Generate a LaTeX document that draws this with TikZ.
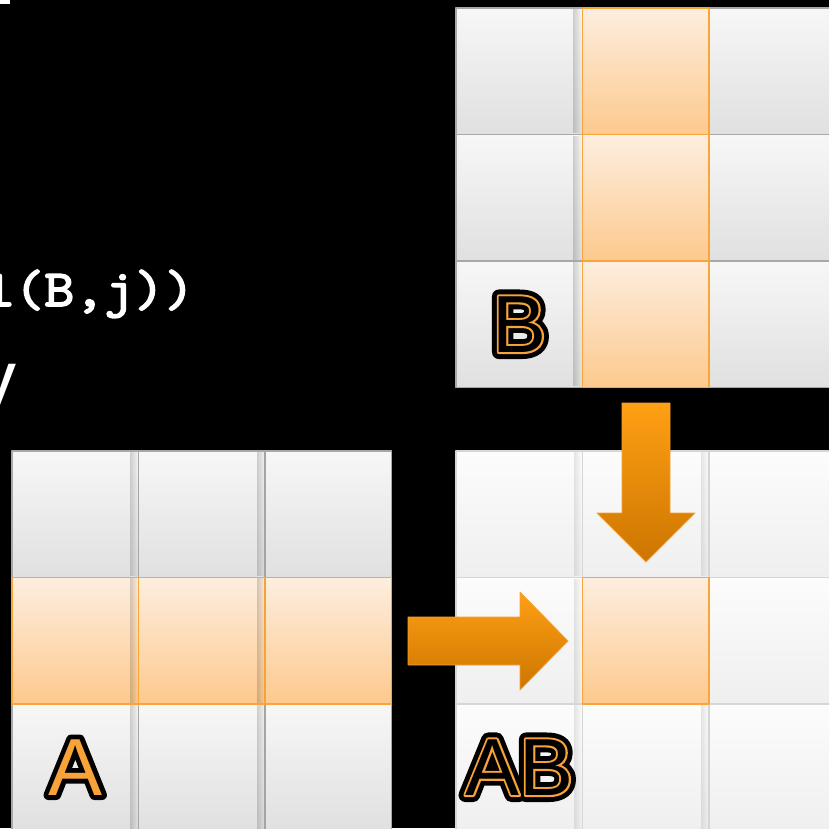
\documentclass[tikz,border=0pt]{standalone}
\usepackage{fontspec}
\setmainfont{Liberation Sans}
\newfontfamily\codefont{lmmono10-regular.otf}[FakeBold=3,FakeStretch=1.1]
\newfontfamily\lblouter{Liberation Sans}[FakeBold=17]
\newfontfamily\lblmid{Liberation Sans}[FakeBold=5]
\newfontfamily\lblaouter{Liberation Sans}[FakeBold=12]
\newfontfamily\lblplain{Liberation Sans}
\usetikzlibrary{fadings}
\definecolor{gtop}{HTML}{F7F7F7}
\definecolor{gbot}{HTML}{E0E0E0}
\definecolor{gborder}{HTML}{A8A8A8}
\definecolor{ltop}{HTML}{FCFCFC}
\definecolor{lbot}{HTML}{EFEFEF}
\definecolor{lborder}{HTML}{D6D6D6}
\definecolor{otop}{HTML}{FDEEDF}
\definecolor{obot}{HTML}{FDC98D}
\definecolor{oborder}{HTML}{F9A53A}
\definecolor{atop}{HTML}{FF9F14}
\definecolor{abot}{HTML}{CC7500}
\definecolor{aedge}{HTML}{F4A033}
\definecolor{lblorange}{HTML}{F8A23A}
\tikzset{
  cellbase/.style={minimum width=126.5pt, minimum height=126.5pt, inner sep=0pt, outer sep=0pt, line width=1.5pt},
  gcell/.style={cellbase, draw=gborder, top color=gtop, bottom color=gbot},
  lcell/.style={cellbase, draw=lborder, top color=ltop, bottom color=lbot},
  ocell/.style={cellbase, draw=oborder, top color=otop, bottom color=obot},
  cshadow/.style={fill=black, path fading=east, fill opacity=0.16},
  blockarrow/.style={draw=aedge, line width=0.8pt, top color=atop, bottom color=abot},
  lblbase/.style={inner sep=0pt, outer sep=0pt},
  lblouterst/.style={lblbase, text=black, font={\lblouter\fontsize{81}{90}\selectfont}},
  lblmidst/.style={lblbase, text=lblorange, font={\lblmid\fontsize{81}{90}\selectfont}},
  lblaouterst/.style={lblbase, text=black, font={\lblaouter\fontsize{81}{90}\selectfont}},
  lblplainst/.style={lblbase, font={\lblplain\fontsize{81}{90}\selectfont}},
}
\begin{document}
\begin{tikzpicture}[x=1pt,y=-1pt, line join=round]
\useasboundingbox (0,0) rectangle (829,828);
\fill[black] (0,0) rectangle (829,828);
\clip (0,0) rectangle (829,828);

% text fragments
\fill[white] (0,0) rectangle (10,4);
\node[anchor=base west, inner sep=0pt, text=white, font={\codefont\fontsize{52}{60}\selectfont}] (code) at (-76,306) {col(B,j))};
\node[anchor=base west, inner sep=0pt, text=white, font={\lblplain\fontsize{80}{90}\selectfont}] (yfrag) at (-24,406) {y};

% ---------- matrix B ----------
\foreach \r/\y in {1/71.25,2/197.75,3/324.25}{
  \node[gcell] (B\r1) at (519.25,\y) {};
  \node[gcell] (B\r3) at (772.25,\y) {};
}
\foreach \y in {71.25,197.75,324.25}{
  \fill[cshadow] (573,\y-62) rectangle (581.5,\y+62);
  \fill[cshadow] (700,\y-62) rectangle (708.5,\y+62);
}
\foreach \r/\y in {1/71.25,2/197.75,3/324.25}{
  \node[ocell] (B\r2) at (645.75,\y) {};
}

% ---------- matrix A ----------
\foreach \c/\x in {1/75.25,2/201.75,3/328.25}{
  \node[gcell] (A1\c) at (\x,514.25) {};
  \node[gcell] (A3\c) at (\x,767.25) {};
}
\foreach \y in {514.25,767.25}{
  \fill[cshadow] (130,\y-62) rectangle (138.5,\y+62);
  \fill[cshadow] (257,\y-62) rectangle (265.5,\y+62);
}
\foreach \c/\x in {1/75.25,2/201.75,3/328.25}{
  \node[ocell] (A2\c) at (\x,640.75) {};
}
\fill[cshadow] (130,578) rectangle (138,703);
\fill[cshadow] (257,578) rectangle (265,703);

% ---------- matrix AB ----------
\foreach \r/\y in {1/514.25,2/640.75,3/767.25}{
  \foreach \c/\x in {1/519.25,2/645.75,3/772.25}{
    \node[lcell] (AB\r\c) at (\x,\y) {};
  }
}
\foreach \y in {514.25,640.75,767.25}{
  \fill[cshadow, fill opacity=0.09] (574,\y-62) rectangle (581.5,\y+62);
  \fill[cshadow, fill opacity=0.09] (701,\y-62) rectangle (708.5,\y+62);
}
\node[ocell] (AB22) at (645.75,640.75) {};

% ---------- block arrows ----------
\draw[blockarrow] (622,403) -- (670,403) -- (670,513) -- (695,513) -- (646,562) -- (597,513) -- (622,513) -- cycle;
\draw[blockarrow] (408,617) -- (520,617) -- (520,592) -- (568,641) -- (520,690) -- (520,665) -- (408,665) -- cycle;

% ---------- labels ----------
\node[lblouterst] (Bouter) at (B31) {B};
\node[lblmidst] (Bmid) at (B31) {B};
\node[lblplainst, text=black] (Blabel) at (B31) {B};

\node[lblouterst] (ABouter) at (AB31) {AB};
\node[lblmidst] (ABmid) at (AB31) {AB};
\node[lblplainst, text=black] (ABlabel) at (AB31) {AB};

\node[lblaouterst] (Aouter) at (A31) {A};
\node[lblplainst, text=lblorange] (Alabel) at (A31) {A};
\end{tikzpicture}
\end{document}
